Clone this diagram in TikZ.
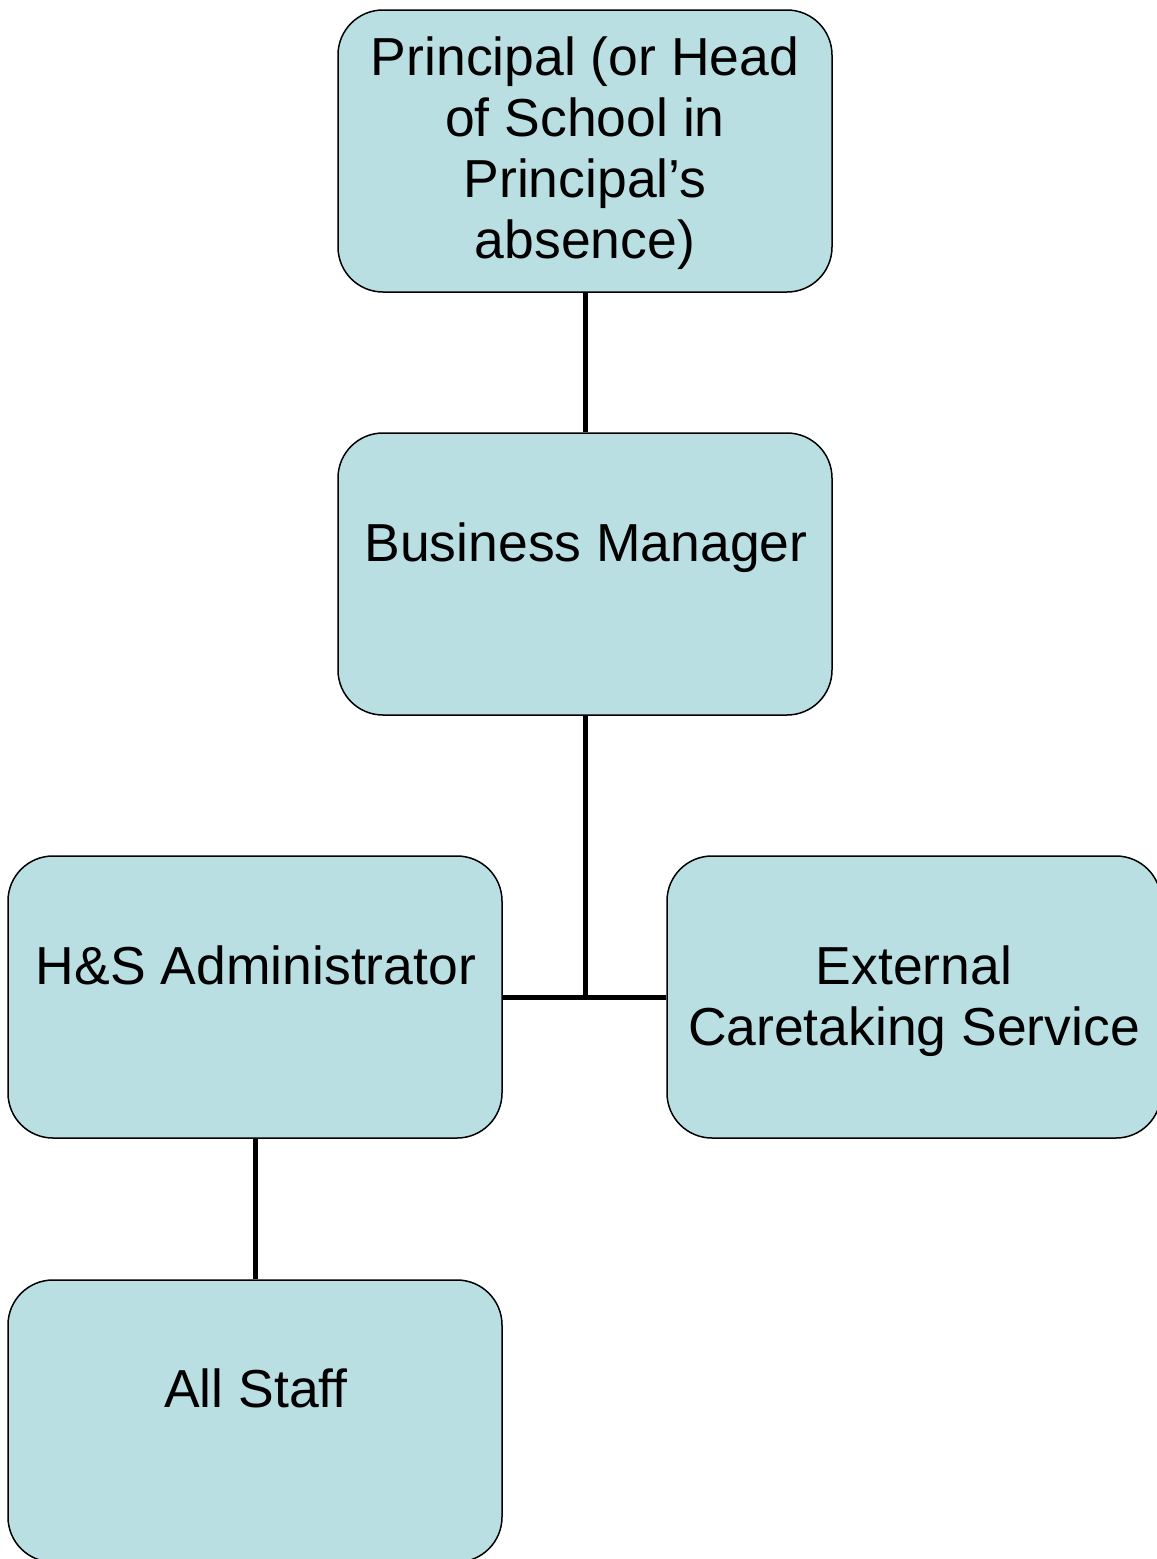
\documentclass[tikz,border=0pt]{standalone}
\usepackage{fontspec}
\setmainfont{Liberation Sans}
\definecolor{boxfill}{RGB}{186,223,227}
\begin{document}
\begin{tikzpicture}[x=1pt,y=-1pt,
  box/.style={draw=black,line width=1.5pt,fill=boxfill,rounded corners=45pt,
    minimum width=494pt,minimum height=282pt,inner sep=0pt},
  lbl/.style={anchor=base,align=center,inner sep=0pt,
    font=\fontsize{53.5pt}{61pt}\selectfont},
  conn/.style={draw=black,line width=5pt}]
\useasboundingbox (0,0) rectangle (1157,1559);
\clip (0,0) rectangle (1157,1559);
\node[box] (p) at (585,151) {};
\node[box] (bm) at (585,574) {};
\node[box] (hs) at (255,997) {};
\node[box] (ext) at (914,997) {};
\node[box] (as) at (255,1421) {};
\node[lbl] (pt) at (585,258) {Principal (or Head\\of School in\\Principal’s\\absence)};
\node[lbl] (bmt) at (586,561) {Business Manager};
\node[lbl] (hst) at (256,984) {H\&S Administrator};
\node[lbl] (extt) at (914,1045) {External\\Caretaking Service};
\node[lbl] (ast) at (256,1407) {All Staff};
\coordinate (j) at (bm.south |- hs.east);
\draw[conn] (p.south) -- (bm.north);
\draw[conn] (bm.south) -- (j);
\draw[conn] (hs.east) -- (ext.west);
\draw[conn] (hs.south) -- (as.north);
\end{tikzpicture}
\end{document}
